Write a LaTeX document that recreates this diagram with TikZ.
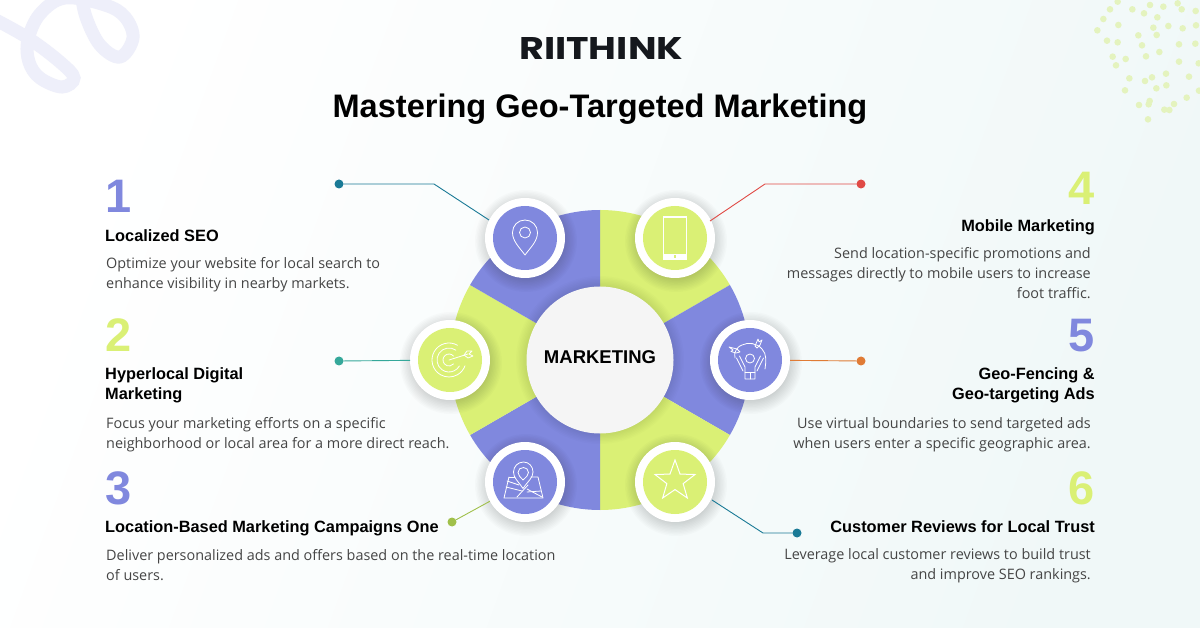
\documentclass[tikz,border=0pt]{standalone}
\usepackage{fontspec}
\setmainfont{Liberation Sans}
\newfontfamily\bodyfont{Open Sans}
\newfontfamily\logofont{Poppins}
\usetikzlibrary{shapes.geometric,calc}
\definecolor{purp}{HTML}{8088DE}
\definecolor{lime}{HTML}{DAF075}
\definecolor{swirl}{HTML}{EEEFFA}
\definecolor{specks}{HTML}{E4F3BE}
\definecolor{bodyc}{HTML}{454545}
\definecolor{hubc}{HTML}{F5F5F5}
\definecolor{lteal}{HTML}{1A7A96}
\definecolor{lgreen}{HTML}{35A89A}
\definecolor{lolive}{HTML}{A0C04A}
\definecolor{lred}{HTML}{E04A45}
\definecolor{lorange}{HTML}{E07B35}
\definecolor{bgend}{HTML}{F0F8F8}
\definecolor{logoc}{HTML}{15181D}
\tikzset{
  disc/.style={circle,fill=white,minimum size=80pt,inner sep=0pt,outer sep=0pt},
  endpt/.style={circle,fill=#1,minimum size=9pt,inner sep=0pt,outer sep=0pt},
  conn/.style={draw=#1,line width=0.9pt},
  ico/.style={draw=white,line width=0.8pt,line cap=round,line join=round},
  digitl/.style={anchor=base west,inner sep=0pt,font=\fontsize{47}{47}\selectfont\bfseries},
  digitr/.style={anchor=base east,inner sep=0pt,font=\fontsize{47}{47}\selectfont\bfseries},
  headl/.style={anchor=base west,inner sep=0pt,align=left,font=\fontsize{16.35}{20}\selectfont\bfseries},
  headr/.style={anchor=base east,inner sep=0pt,align=right,font=\fontsize{16.35}{20}\selectfont\bfseries},
  bodyl/.style={anchor=base west,inner sep=0pt,align=left,text=bodyc,font=\fontsize{14.4}{20}\bodyfont\selectfont},
  bodyr/.style={anchor=base east,inner sep=0pt,align=right,text=bodyc,font=\fontsize{14.4}{20}\bodyfont\selectfont},
}
\newcommand{\softshadow}[4]{%
  \foreach \k in {0,...,9}{\fill[black,opacity=#4] (#1,#2) circle ({#3+11-1.4*\k});}}
\begin{document}
\begin{tikzpicture}[x=1pt,y=-1pt]
\useasboundingbox (0,0) rectangle (1200,628);
\shade[top color=white,bottom color=bgend,shading angle=70] (0,0) rectangle (1200,628);
% decorations
\begin{scope}
\clip (0,0) rectangle (1200,628);
\draw[swirl,line width=13pt,line cap=round] plot[smooth,tension=0.6] coordinates {(-8,18) (28,38) (60,62) (74,78) (62,87) (40,78) (29,62) (28,40) (40,14) (65,-2) (105,5) (125,17) (133,38) (120,57) (100,45) (86,17) (81,-8)};
\foreach \a/\b in {113/5,90/28,157/28,210/15,250/20,293/10,305/28,347/33,192/40,232/52,70/57,115/75,52/91,220/83,265/78,308/85,348/76,175/106,230/105,81/122,113/127,186/136,297/133,346/131,238/156,98/170,137/177,198/169,297/185,356/190,108/196,258/221,327/230,148/235,195/243,216/232,229/265,259/256,135/271,357/272,320/293,209/303,177/315,206/313,282/312,253/329,268/330,204/358}
  \fill[specks] ({1080+\a/3},{\b/3}) circle (3.3);
\end{scope}
% donut
\begin{scope}[shift={(600,360)},x=1pt,y=1pt]
\foreach \s/\c in {30/lime,-30/purp,-90/lime,-150/purp,150/lime,90/purp}
  \fill[\c] (0,0) -- (\s:150) arc[start angle=\s,delta angle=60,radius=150] -- cycle;
\end{scope}
\softshadow{600}{360}{73}{0.01}
\softshadow{526}{241}{40}{0.014}
\softshadow{676}{241}{40}{0.014}
\softshadow{451}{363}{40}{0.014}
\softshadow{751}{363}{40}{0.014}
\softshadow{526}{485}{40}{0.014}
\softshadow{676}{485}{40}{0.014}
\node[circle,fill=hubc,minimum size=147pt,inner sep=0pt] (hub) at (600,360) {};
\node[inner sep=0pt,anchor=base,font=\fontsize{18.5}{20}\selectfont\bfseries] (hubtext) at (600,363) {MARKETING};
% discs
\node[disc] (c1) at (525,238) {};
\node[disc] (c4) at (675,238) {};
\node[disc] (c2) at (450,360) {};
\node[disc] (c5) at (750,360) {};
\node[disc] (c3) at (525,482) {};
\node[disc] (c6) at (675,482) {};
\fill[purp] (c1) circle (32);
\fill[lime] (c4) circle (32);
\fill[lime] (c2) circle (32);
\fill[purp] (c5) circle (32);
\fill[purp] (c3) circle (32);
\fill[lime] (c6) circle (32);
% connectors
\node[endpt=lteal] (d1) at (339,184) {};
\coordinate (b1) at (434,184);
\coordinate (e1) at (489,220);
\draw[conn=lteal] (d1) -- (b1) -- (e1);
\node[endpt=lgreen] (d2) at (339,361) {};
\draw[conn=lgreen] (d2) -- (c2);
\node[endpt=lolive] (d3) at (452,522) {};
\draw[conn=lolive] (d3) -- (c3);
\node[endpt=lred] (d4) at (861,184) {};
\coordinate (b4) at (765,184);
\coordinate (e4) at (710,221);
\draw[conn=lred] (d4) -- (b4) -- (e4);
\node[endpt=lorange] (d5) at (861,361) {};
\draw[conn=lorange] (d5) -- (c5);
\node[endpt=lteal] (d6) at (797,533) {};
\coordinate (b6) at (763,533);
\coordinate (e6) at (712,500);
\draw[conn=lteal] (d6) -- (b6) -- (e6);
% pin icon
\draw[ico] (525,255) .. controls (519,247) and (512.5,241) .. (512.5,232.5) .. controls (512.5,225.5) and (518,220) .. (525,220) .. controls (532,220) and (537.5,225.5) .. (537.5,232.5) .. controls (537.5,241) and (531,247) .. (525,255) -- cycle;
\draw[ico] (525,232.5) circle (5.5);
% phone icon
\draw[ico,line width=0.6pt] (663.5,216.5) rectangle (686.5,259.5);
\fill[white] (663,216) rectangle (687,218);
\fill[white] (663,254) rectangle (687,260);
\fill[lime] (673.5,255.5) rectangle (676,258);
% target icon
\begin{scope}[shift={(449,360)},x=1pt,y=1pt]
\draw[ico] (60:17) arc[start angle=60,end angle=340,radius=17];
\draw[ico] (55:12) arc[start angle=55,end angle=330,radius=12];
\draw[ico] (40:6) arc[start angle=40,end angle=320,radius=6];
\draw[ico] (0,0) -- (19,6);
\draw[ico] (15,5) -- (18,9) -- (23,9) -- (20,6) -- (24,4) -- (19,2) -- cycle;
\end{scope}
% person icon
\draw[ico] (750,358.5) circle (4.5);
\draw[ico] (739.5,356) -- (745,367) -- (745,379) -- (755,379) -- (755,367) -- (760.5,356);
\draw[ico] (736.5,358) -- (743,371);
\draw[ico] (763.5,358) -- (757,371);
\draw[ico] (745,372.5) -- (755,372.5) (750,372.5) -- (750,379);
\draw[ico] (735,358) .. controls (733,352) and (738,346) .. (742,345) .. controls (748,342) and (757,343) .. (762,349) .. controls (767,354) and (766,362) .. (765,369);
\draw[ico] (737,349) -- (729,347) -- (733,350) -- (731,351.5) -- (736,353) -- (740,352) -- cycle;
\draw[ico] (755,346) -- (758,339) -- (759,342) -- (762,340) -- (760,345) -- (757,348) -- cycle;
% map icon
\draw[ico] (509,477) -- (504,498) -- (543,498) -- (538,477) -- (531,477);
\draw[ico] (509,477) -- (515,477);
\draw[ico] (523,488.5) .. controls (518,481) and (513.5,478) .. (513.5,472) .. controls (513.5,466.5) and (518,462) .. (523.5,462) .. controls (529,462) and (533,466.5) .. (533,472) .. controls (533,478) and (528,481) .. (523,488.5) -- cycle;
\draw[ico] (523,480) .. controls (520.5,477) and (518,475.5) .. (518,472.5) .. controls (518,469.5) and (520.5,467.5) .. (523.5,467.5) .. controls (526,467.5) and (528.5,469.5) .. (528.5,472.5) .. controls (528.5,475.5) and (526,477) .. (523,480) -- cycle;
\draw[ico] (507,481) -- (519,485) (527,489) -- (542,497);
\draw[ico] (506,487) -- (522,491) (527,492) -- (541,491);
\draw[ico] (528,485) -- (517,497);
% star icon
\node[star,star points=5,star point ratio=2.45,minimum size=42pt,inner sep=0pt,draw=white,line width=1pt] (staricon) at (675,481) {};
% header
\node[inner sep=0pt,anchor=base west,text=logoc] (logo) at (519,60) {\resizebox{164pt}{22pt}{\logofont\bfseries RIITHINK}};
\node[inner sep=0pt,anchor=base,font=\fontsize{32.55}{36}\selectfont\bfseries] (title) at (600,118) {Mastering Geo-Targeted Marketing};
% left column
\node[digitl,text=purp] (n1) at (105,213) {1};
\node[headl] (h1) at (105,242) {Localized SEO};
\node[bodyl] (t1) at (106,289) {Optimize your website for local search to\\enhance visibility in nearby markets.};
\node[digitl,text=lime] (n2) at (105,352) {2};
\node[headl] (h2) at (105,399.5) {Hyperlocal Digital\\Marketing};
\node[bodyl] (t2) at (106,448) {Focus your marketing efforts on a specific\\neighborhood or local area for a more direct reach.};
\node[digitl,text=purp] (n3) at (105,504.5) {3};
\node[headl] (h3) at (105,532) {Location-Based Marketing Campaigns One};
\node[bodyl] (t3) at (106,580) {Deliver personalized ads and offers based on the real-time location\\of users.};
% right column
\node[digitr,text=lime] (n4) at (1095,205) {4};
\node[headr] (h4) at (1095,232) {Mobile Marketing};
\node[bodyr] (t4) at (1091,299) {Send location-specific promotions and\\messages directly to mobile users to increase\\foot traffic.};
\node[digitr,text=purp] (n5) at (1095,352) {5};
\node[headr] (h5) at (1095,399.5) {Geo-Fencing \&\\Geo-targeting Ads};
\node[bodyr] (t5) at (1091,448) {Use virtual boundaries to send targeted ads\\when users enter a specific geographic area.};
\node[digitr,text=lime] (n6) at (1095,504.5) {6};
\node[headr] (h6) at (1095,532) {Customer Reviews for Local Trust};
\node[bodyr] (t6) at (1091,579) {Leverage local customer reviews to build trust\\and improve SEO rankings.};
\end{tikzpicture}
\end{document}
